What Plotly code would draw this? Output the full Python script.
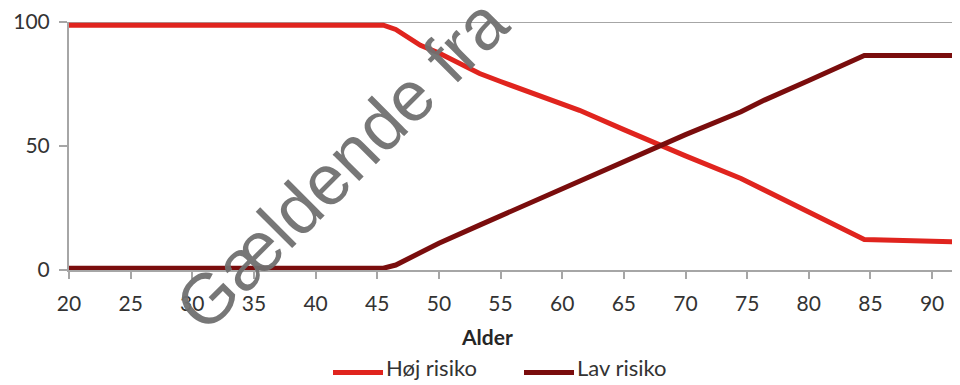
import plotly.graph_objects as go

# Data
hoj_age = [20, 45.5, 46.5, 48.5, 50, 53.3, 55, 60, 61.4, 65, 67.9, 70, 74.5, 76, 78.5, 80, 84.5, 93]
hoj_val = [98.7, 98.7, 97, 90.6, 87.5, 79.2, 76, 67, 64.4, 56.6, 50.3, 46, 36.9, 33.2, 26.9, 23.2, 12.3, 11.2]

lav_age = [20, 45.5, 46.5, 50, 53.3, 57.4, 61.4, 65, 67.9, 70, 74.5, 76.4, 80, 84.5, 93]
lav_val = [0.7, 0.7, 2, 10.8, 18.1, 27, 36.2, 44, 50.3, 54.6, 63.8, 68.5, 76.4, 86.5, 86.5]

series_names = ["Høj risiko", "Lav risiko"]
series_colors = ["#e0241e", "#7a0d0d"]

x_ticks = [20, 25, 30, 35, 40, 45, 50, 55, 60, 65, 70, 75, 80, 85, 90]
y_ticks = [0, 50, 100]

FONT = "Lato"
TXT = "#333333"
AX = "#a6a6a6"

fig = go.Figure()
fig.add_trace(go.Scatter(x=hoj_age, y=hoj_val, mode="lines", name=series_names[0],
                         line=dict(color=series_colors[0], width=5)))
fig.add_trace(go.Scatter(x=lav_age, y=lav_val, mode="lines", name=series_names[1],
                         line=dict(color=series_colors[1], width=5)))

OFF = 8  # page body margin
W, H = 960, 385
L, R = 69 - OFF, 0
T = 21.7 - OFF
B = H - (270 - OFF)
pw, ph = W - L - R, H - T - B

def px(x):  # screen pixel -> paper x
    return (x - OFF - L) / pw

def py(y):  # screen pixel -> paper y
    return (H - B - (y - OFF)) / ph

# x range: 20 at screen 69, 12.33 px per year
x_max = 20 + (OFF + W - 69) / 12.33

legend_shapes = []
legend_annots = []
for name, color, x0 in zip(series_names, series_colors, [333, 524]):
    legend_shapes.append(dict(type="line", xref="paper", yref="paper",
                              x0=px(x0), x1=px(x0 + 50), y0=py(372.5), y1=py(372.5),
                              line=dict(color=color, width=5)))
    legend_annots.append(dict(text=name, xref="paper", yref="paper", x=px(x0 + 51), y=py(368),
                              xanchor="left", yanchor="middle", showarrow=False,
                              font=dict(family=FONT, size=22, color=TXT)))

fig.update_layout(
    width=W, height=H,
    margin=dict(l=L, r=R, t=T, b=B, autoexpand=False),
    paper_bgcolor="white", plot_bgcolor="white",
    font=dict(family=FONT, size=21, color=TXT),
    showlegend=False,
    xaxis=dict(range=[20, x_max], tickvals=x_ticks, showgrid=False, zeroline=False,
               showline=True, linecolor=AX, linewidth=2, ticks="outside", ticklen=7,
               tickcolor=AX, tickwidth=2, ticklabelstandoff=7,
               tickfont=dict(family=FONT, size=21, color=TXT)),
    yaxis=dict(range=[0, 100], tickvals=y_ticks, showgrid=False, zeroline=False,
               showline=True, linecolor=AX, linewidth=2, ticks="outside", ticklen=8,
               tickcolor=AX, tickwidth=2, ticklabelstandoff=5,
               tickfont=dict(family=FONT, size=21, color=TXT)),
    shapes=[dict(type="line", xref="paper", yref="y", x0=0, x1=1, y0=100, y1=100,
                 line=dict(color=AX, width=2), layer="below")] + legend_shapes,
    annotations=[
        dict(text="<b>Alder</b>", xref="paper", yref="paper", x=px(487), y=py(337),
             xanchor="center", yanchor="middle", showarrow=False,
             font=dict(family=FONT, size=21, color="#262626")),
        dict(text="Gældende fra", xref="paper", yref="paper", x=px(341), y=py(164),
             xanchor="center", yanchor="middle", showarrow=False, textangle=-45,
             font=dict(family="Liberation Sans", size=71, color="rgba(112,112,112,0.95)")),
    ] + legend_annots,
)

fig.write_html("out.html")
